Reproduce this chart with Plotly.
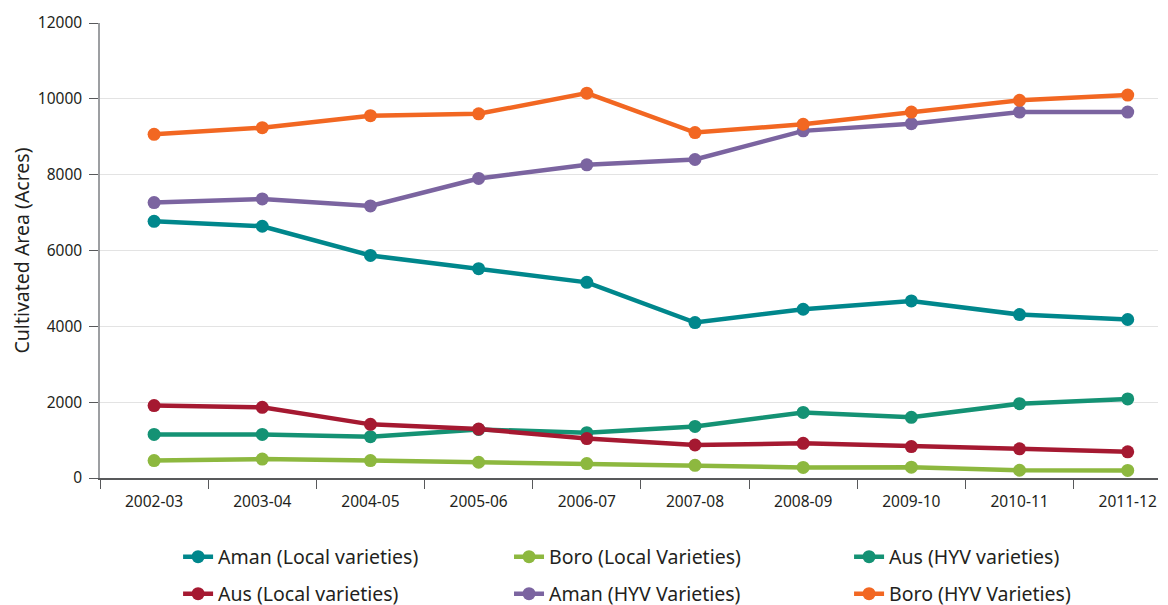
import plotly.graph_objects as go

years = ["2002-03", "2003-04", "2004-05", "2005-06", "2006-07",
         "2007-08", "2008-09", "2009-10", "2010-11", "2011-12"]

aman_local = [6770, 6640, 5870, 5520, 5160, 4100, 4450, 4670, 4310, 4180]
boro_local = [460, 500, 460, 415, 380, 335, 280, 285, 205, 200]
aus_hyv = [1150, 1150, 1090, 1280, 1195, 1360, 1730, 1600, 1960, 2085]
aus_local = [1910, 1865, 1415, 1290, 1040, 870, 915, 830, 770, 690]
aman_hyv = [7265, 7360, 7175, 7900, 8260, 8400, 9155, 9345, 9650, 9650]
boro_hyv = [9065, 9240, 9555, 9605, 10150, 9110, 9330, 9650, 9960, 10100]

y_ticks = [0, 2000, 4000, 6000, 8000, 10000, 12000]
y_tick_labels = ["0", "2000", "4000", "6000", "8000", "10000", "12000"]

series = [
    ("Aman (Local varieties)", aman_local, "#00878C"),
    ("Boro (Local Varieties)", boro_local, "#8DB83F"),
    ("Aus (HYV varieties)", aus_hyv, "#149274"),
    ("Aus (Local varieties)", aus_local, "#A51931"),
    ("Aman (HYV Varieties)", aman_hyv, "#7B64A0"),
    ("Boro (HYV Varieties)", boro_hyv, "#F26722"),
]

# legend slots: x in paper coords, y in container coords; 3 columns x 2 rows
legend_x = [0.0738, 0.3866, 0.708]
legend_y = [0.0804, 0.0184]

fig = go.Figure()
legend_layout = {}
for i, (name, vals, col) in enumerate(series):
    key = "legend" if i == 0 else f"legend{i + 1}"
    fig.add_trace(go.Scatter(
        x=years, y=vals, name=name, mode="lines+markers",
        line=dict(color=col, width=4.5),
        marker=dict(color=col, size=13),
        legend=key,
    ))
    legend_layout[key] = dict(
        orientation="h", x=legend_x[i % 3], xanchor="left",
        y=legend_y[i // 3], yanchor="middle", yref="container",
        font=dict(size=19.5, color="#231F20"), bgcolor="rgba(0,0,0,0)",
    )

font_family = "Noto Sans, Open Sans, sans-serif"

# page body has an 8px default margin, so the figure is sized to fit the window
fig.update_layout(
    width=1160, height=597,
    margin=dict(l=92, r=10, t=15, b=127),
    paper_bgcolor="white", plot_bgcolor="white",
    font=dict(family=font_family, color="#231F20"),
    showlegend=True,
    **legend_layout,
)

fig.update_xaxes(
    type="category", showline=True, linecolor="#58595B", linewidth=1.5,
    ticks="outside", tickson="boundaries", ticklen=9, tickcolor="#58595B",
    tickwidth=1.2, showgrid=False, tickfont=dict(size=15.5, color="#231F20"),
    range=[-0.5, 9.28], automargin=False, ticklabelstandoff=9,
)
fig.update_yaxes(
    range=[0, 12000], tickvals=y_ticks, ticktext=y_tick_labels,
    showline=True, linecolor="#9D9FA2",
    linewidth=1.5, ticks="outside", ticklen=9, tickcolor="#58595B",
    showgrid=True, gridcolor="#E3E3E3", gridwidth=1, zeroline=False,
    tickfont=dict(size=15.5, color="#231F20"), automargin=False,
    ticklabelstandoff=4,
    title=dict(text="Cultivated Area (Acres)", font=dict(size=19.5, color="#231F20"), standoff=3),
)

fig.write_html("out.html")
